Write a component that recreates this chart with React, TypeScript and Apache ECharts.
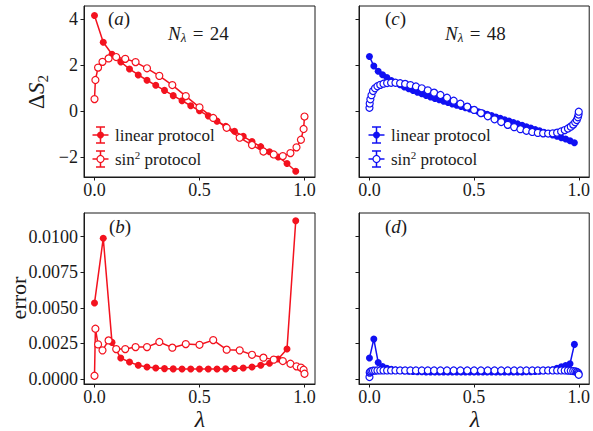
import React, { useEffect, useRef } from "react";
import * as echarts from "echarts";

// ---------- data ----------
// N_lambda = 24
const lamLin24 = [0, 0.0417, 0.0833, 0.125, 0.1667, 0.2083, 0.25, 0.2917, 0.3333, 0.375, 0.4167, 0.4583, 0.5, 0.5417, 0.5833, 0.625, 0.6667, 0.7083, 0.75, 0.7917, 0.8333, 0.875, 0.9167, 0.9583];
const dSLin24 = [4.15, 2.98, 2.46, 2.13, 1.82, 1.56, 1.33, 1.11, 0.89, 0.66, 0.44, 0.22, 0.0, -0.22, -0.45, -0.67, -0.89, -1.11, -1.34, -1.56, -1.78, -2.01, -2.29, -2.63];
const errLin24 = [0.00533, 0.00988, 0.00257, 0.00147, 0.00119, 0.00096, 0.00084, 0.00077, 0.00073, 0.00071, 0.0007, 0.0007, 0.0007, 0.0007, 0.0007, 0.00071, 0.00074, 0.00077, 0.00084, 0.00096, 0.0011, 0.0014, 0.0021, 0.0111];

const lamSin24 = [0, 0.0043, 0.017, 0.0381, 0.067, 0.1033, 0.1464, 0.1956, 0.25, 0.3087, 0.3706, 0.4347, 0.5, 0.5653, 0.6294, 0.6913, 0.75, 0.8044, 0.8536, 0.8967, 0.933, 0.9619, 0.983, 0.9957, 1];
const dSSin24 = [0.51, 1.34, 1.88, 2.13, 2.28, 2.34, 2.26, 2.12, 1.85, 1.52, 1.12, 0.64, 0.15, -0.31, -0.74, -1.17, -1.49, -1.77, -1.9, -1.97, -1.84, -1.59, -1.26, -0.79, -0.25];
const errSin24 = [0.00023, 0.00353, 0.00243, 0.00201, 0.00271, 0.0021, 0.0021, 0.00224, 0.00224, 0.0026, 0.0022, 0.00245, 0.0024, 0.00273, 0.00206, 0.00201, 0.0017, 0.0015, 0.00136, 0.00126, 0.00107, 0.00089, 0.0008, 0.00065, 0.00037];

// N_lambda = 48
const lamLin48 = [0, 0.0208, 0.0417, 0.0625, 0.0833, 0.1042, 0.125, 0.1458, 0.1667, 0.1875, 0.2083, 0.2292, 0.25, 0.2708, 0.2917, 0.3125, 0.3333, 0.3542, 0.375, 0.3958, 0.4167, 0.4375, 0.4583, 0.4792, 0.5, 0.5208, 0.5417, 0.5625, 0.5833, 0.6042, 0.625, 0.6458, 0.6667, 0.6875, 0.7083, 0.7292, 0.75, 0.7708, 0.7917, 0.8125, 0.8333, 0.8542, 0.875, 0.8958, 0.9167, 0.9375, 0.9583, 0.9792];
const dSLin48 = [2.36, 1.95, 1.72, 1.57, 1.45, 1.32, 1.22, 1.13, 1.04, 0.96, 0.88, 0.81, 0.74, 0.67, 0.6, 0.54, 0.48, 0.42, 0.36, 0.3, 0.24, 0.19, 0.13, 0.08, 0.02, -0.04, -0.1, -0.15, -0.21, -0.27, -0.33, -0.39, -0.45, -0.51, -0.57, -0.63, -0.69, -0.75, -0.81, -0.87, -0.93, -0.99, -1.05, -1.11, -1.17, -1.23, -1.3, -1.39];
const errLin48 = [0.00147, 0.0028, 0.00116, 0.00088, 0.00075, 0.00068, 0.00063, 0.0006, 0.00057, 0.00055, 0.00053, 0.00052, 0.00051, 0.0005, 0.0005, 0.0005, 0.0005, 0.0005, 0.0005, 0.0005, 0.0005, 0.0005, 0.0005, 0.0005, 0.0005, 0.0005, 0.0005, 0.0005, 0.0005, 0.0005, 0.0005, 0.0005, 0.0005, 0.0005, 0.0005, 0.0005, 0.00051, 0.00052, 0.00053, 0.00055, 0.00058, 0.00061, 0.00065, 0.00075, 0.00085, 0.00095, 0.00107, 0.00243];

const lamSin48 = [0, 0.0011, 0.0043, 0.0096, 0.017, 0.0265, 0.0381, 0.0516, 0.067, 0.0843, 0.1033, 0.1241, 0.1464, 0.1703, 0.1956, 0.2222, 0.25, 0.2789, 0.3087, 0.3393, 0.3706, 0.4025, 0.4347, 0.4673, 0.5, 0.5327, 0.5653, 0.5975, 0.6294, 0.6607, 0.6913, 0.7211, 0.75, 0.7778, 0.8044, 0.8297, 0.8536, 0.8759, 0.8967, 0.9157, 0.933, 0.9484, 0.9619, 0.9735, 0.983, 0.9904, 0.9957, 0.9989, 1];
const dSSin48 = [0.13, 0.32, 0.5, 0.68, 0.86, 0.98, 1.07, 1.13, 1.18, 1.21, 1.22, 1.22, 1.2, 1.17, 1.12, 1.06, 0.98, 0.89, 0.79, 0.69, 0.57, 0.44, 0.31, 0.18, 0.04, -0.1, -0.24, -0.37, -0.49, -0.61, -0.71, -0.8, -0.87, -0.92, -0.96, -0.98, -0.99, -0.98, -0.95, -0.9, -0.84, -0.77, -0.69, -0.6, -0.5, -0.4, -0.28, -0.16, -0.04];
const errSin48 = [0.00014, 0.00045, 0.00052, 0.00056, 0.00058, 0.00059, 0.0006, 0.0006, 0.0006, 0.0006, 0.0006, 0.0006, 0.0006, 0.0006, 0.0006, 0.0006, 0.0006, 0.0006, 0.0006, 0.0006, 0.0006, 0.0006, 0.0006, 0.0006, 0.0006, 0.0006, 0.0006, 0.0006, 0.0006, 0.0006, 0.0006, 0.0006, 0.0006, 0.0006, 0.0006, 0.0006, 0.0006, 0.0006, 0.0006, 0.0006, 0.0006, 0.00059, 0.00058, 0.00056, 0.00054, 0.0005, 0.00045, 0.00038, 0.0003];

const xTicks = [0, 0.5, 1];
const dSTicks = [-2, 0, 2, 4];
const errTicks = [0, 0.0025, 0.005, 0.0075, 0.01];

// ---------- style ----------
const RED = "#f3121e";
const BLUE = "#1010f3";
const INK = "#1a1a1a";
const SERIF = "Liberation Serif";

const GRIDS = [
  { left: 84, top: 6, width: 231, height: 171 },
  { left: 359, top: 6, width: 232, height: 171 },
  { left: 84, top: 213, width: 231, height: 171 },
  { left: 359, top: 213, width: 232, height: 171 },
];

function xAxis(gi: number) {
  return {
    type: "value",
    gridIndex: gi,
    min: -0.05,
    max: 1.05,
    axisLine: { show: true, onZero: false, lineStyle: { color: INK, width: 1 } },
    axisTick: { show: true, length: 3.5, customValues: xTicks, lineStyle: { color: INK } },
    axisLabel: {
      show: true,
      customValues: xTicks,
      formatter: (v: number) => v.toFixed(1),
      fontFamily: SERIF,
      fontSize: 18,
      color: INK,
      margin: 4,
    },
    splitLine: { show: false },
  };
}

function yAxis(gi: number, top: boolean, labels: boolean) {
  const ticks = top ? dSTicks : errTicks;
  return {
    type: "value",
    gridIndex: gi,
    min: top ? -2.88 : -0.00035,
    max: top ? 4.56 : 0.01165,
    axisLine: { show: true, onZero: false, lineStyle: { color: INK, width: 1 } },
    axisTick: { show: true, length: 3.5, customValues: ticks, lineStyle: { color: INK } },
    axisLabel: {
      show: labels,
      customValues: ticks,
      formatter: (v: number) => (top ? (v < 0 ? "\u2212" + Math.abs(v) : String(v)) : v.toFixed(4)),
      fontFamily: SERIF,
      fontSize: 18,
      color: INK,
      margin: 6,
    },
    splitLine: { show: false },
  };
}

function series(xs: number[], ys: number[], color: string, filled: boolean, gi: number, z: number) {
  return {
    type: "line",
    xAxisIndex: gi,
    yAxisIndex: gi,
    data: xs.map((x, i) => [x, ys[i]]),
    symbol: "circle",
    symbolSize: 7,
    showSymbol: true,
    showAllSymbol: true,
    clip: false,
    silent: true,
    z,
    lineStyle: { color, width: 1.5 },
    itemStyle: filled
      ? { color, borderColor: color, borderWidth: 0 }
      : { color: "#ffffff", borderColor: color, borderWidth: 1.2 },
  };
}

function legendGraphics(ox: number, color: string) {
  const els: any[] = [];
  const rows = [
    { y: 135, filled: true, text: "{n|linear protocol}" },
    { y: 159, filled: false, text: "{n|sin}{p|2}{n| protocol}" },
  ];
  rows.forEach((r) => {
    const cx = ox + 100.5;
    els.push({ type: "line", silent: true, shape: { x1: ox + 92.5, y1: r.y, x2: ox + 108.5, y2: r.y }, style: { stroke: color, lineWidth: 1.5 } });
    els.push({ type: "line", silent: true, shape: { x1: cx, y1: r.y - 8, x2: cx, y2: r.y + 8 }, style: { stroke: color, lineWidth: 1.5 } });
    els.push({ type: "line", silent: true, shape: { x1: cx - 4.5, y1: r.y - 8, x2: cx + 4.5, y2: r.y - 8 }, style: { stroke: color, lineWidth: 1.5 } });
    els.push({ type: "line", silent: true, shape: { x1: cx - 4.5, y1: r.y + 8, x2: cx + 4.5, y2: r.y + 8 }, style: { stroke: color, lineWidth: 1.5 } });
    els.push({
      type: "circle",
      silent: true,
      shape: { cx, cy: r.y, r: 3.5 },
      style: r.filled ? { fill: color, stroke: color, lineWidth: 0 } : { fill: "#fff", stroke: color, lineWidth: 1.2 },
    });
    els.push({
      type: "text",
      silent: true,
      x: ox + 115,
      y: r.y,
      style: {
        text: r.text,
        align: "left",
        verticalAlign: "middle",
        fill: INK,
        fontFamily: SERIF,
        rich: {
          n: { fontFamily: SERIF, fontSize: 17, lineHeight: 20, fill: INK },
          p: { fontFamily: SERIF, fontSize: 11, lineHeight: 11, verticalAlign: "top", fill: INK },
        },
      },
    });
  });
  return els;
}

function panelLabel(x: number, y: number, letter: string) {
  return {
    type: "text",
    silent: true,
    x,
    y,
    style: {
      text: `{n|(}{i|${letter}}{n|)}`,
      align: "left",
      verticalAlign: "middle",
      fontFamily: SERIF,
      rich: {
        n: { fontFamily: SERIF, fontSize: 19, fill: INK },
        i: { fontFamily: SERIF, fontSize: 19, fontStyle: "italic", fill: INK },
      },
    },
  };
}

function nLabel(x: number, y: number, n: number) {
  return {
    type: "text",
    silent: true,
    x,
    y,
    style: {
      text: `{i|N}{s|λ}{n|\u2004=\u2004${n}}`,
      align: "left",
      verticalAlign: "middle",
      fontFamily: SERIF,
      rich: {
        i: { fontFamily: SERIF, fontSize: 19, fontStyle: "italic", lineHeight: 22, fill: INK },
        s: { fontFamily: SERIF, fontSize: 13, fontStyle: "italic", lineHeight: 13, verticalAlign: "bottom", fill: INK },
        n: { fontFamily: SERIF, fontSize: 19, lineHeight: 22, fill: INK },
      },
    },
  };
}

export default function App() {
  const ref = useRef<HTMLDivElement>(null);
  useEffect(() => {
    if (!ref.current) return;
    const chart = echarts.init(ref.current, undefined, { renderer: "svg" });
    const option: any = {
      animation: false,
      backgroundColor: "#ffffff",
      textStyle: { fontFamily: SERIF },
      grid: GRIDS.map((g) => ({ ...g, show: true, borderColor: INK, borderWidth: 1, backgroundColor: "transparent" })),
      xAxis: [xAxis(0), xAxis(1), xAxis(2), xAxis(3)],
      yAxis: [yAxis(0, true, true), yAxis(1, true, false), yAxis(2, false, true), yAxis(3, false, false)],
      series: [
        series(lamLin24, dSLin24, RED, true, 0, 2),
        series(lamSin24, dSSin24, RED, false, 0, 3),
        series(lamLin48, dSLin48, BLUE, true, 1, 2),
        series(lamSin48, dSSin48, BLUE, false, 1, 3),
        series(lamLin24, errLin24, RED, true, 2, 2),
        series(lamSin24, errSin24, RED, false, 2, 3),
        series(lamLin48, errLin48, BLUE, true, 3, 2),
        series(lamSin48, errSin48, BLUE, false, 3, 3),
      ],
      graphic: [
        ...legendGraphics(0, RED),
        ...legendGraphics(276, BLUE),
        panelLabel(108, 18, "a"),
        panelLabel(385, 18, "c"),
        panelLabel(109, 226, "b"),
        panelLabel(385, 226, "d"),
        nLabel(168, 33, 24),
        nLabel(445, 33, 48),
        {
          type: "text",
          silent: true,
          x: 36,
          y: 92,
          rotation: Math.PI / 2,
          style: {
            text: "{d|Δ}{i|S}{s|2}",
            align: "center",
            verticalAlign: "middle",
            fontFamily: SERIF,
            rich: {
              d: { fontFamily: SERIF, fontSize: 23, lineHeight: 28, fill: INK },
              i: { fontFamily: SERIF, fontSize: 23, fontStyle: "italic", lineHeight: 28, fill: INK },
              s: { fontFamily: SERIF, fontSize: 15, lineHeight: 15, verticalAlign: "bottom", fill: INK },
            },
          },
        },
        {
          type: "text",
          silent: true,
          x: 18,
          y: 298,
          rotation: Math.PI / 2,
          style: { text: "error", align: "center", verticalAlign: "middle", fontFamily: SERIF, fontSize: 22, fill: INK },
        },
        {
          type: "text",
          silent: true,
          x: 200,
          y: 419,
          style: { text: "λ", align: "center", verticalAlign: "middle", fontFamily: SERIF, fontSize: 24, fontStyle: "italic", fill: INK },
        },
        {
          type: "text",
          silent: true,
          x: 475,
          y: 419,
          style: { text: "λ", align: "center", verticalAlign: "middle", fontFamily: SERIF, fontSize: 24, fontStyle: "italic", fill: INK },
        },
      ],
    };
    chart.setOption(option);
    return () => chart.dispose();
  }, []);
  return <div ref={ref} style={{ position: "fixed", left: 0, top: 0, width: 593, height: 431 }} />;
}
